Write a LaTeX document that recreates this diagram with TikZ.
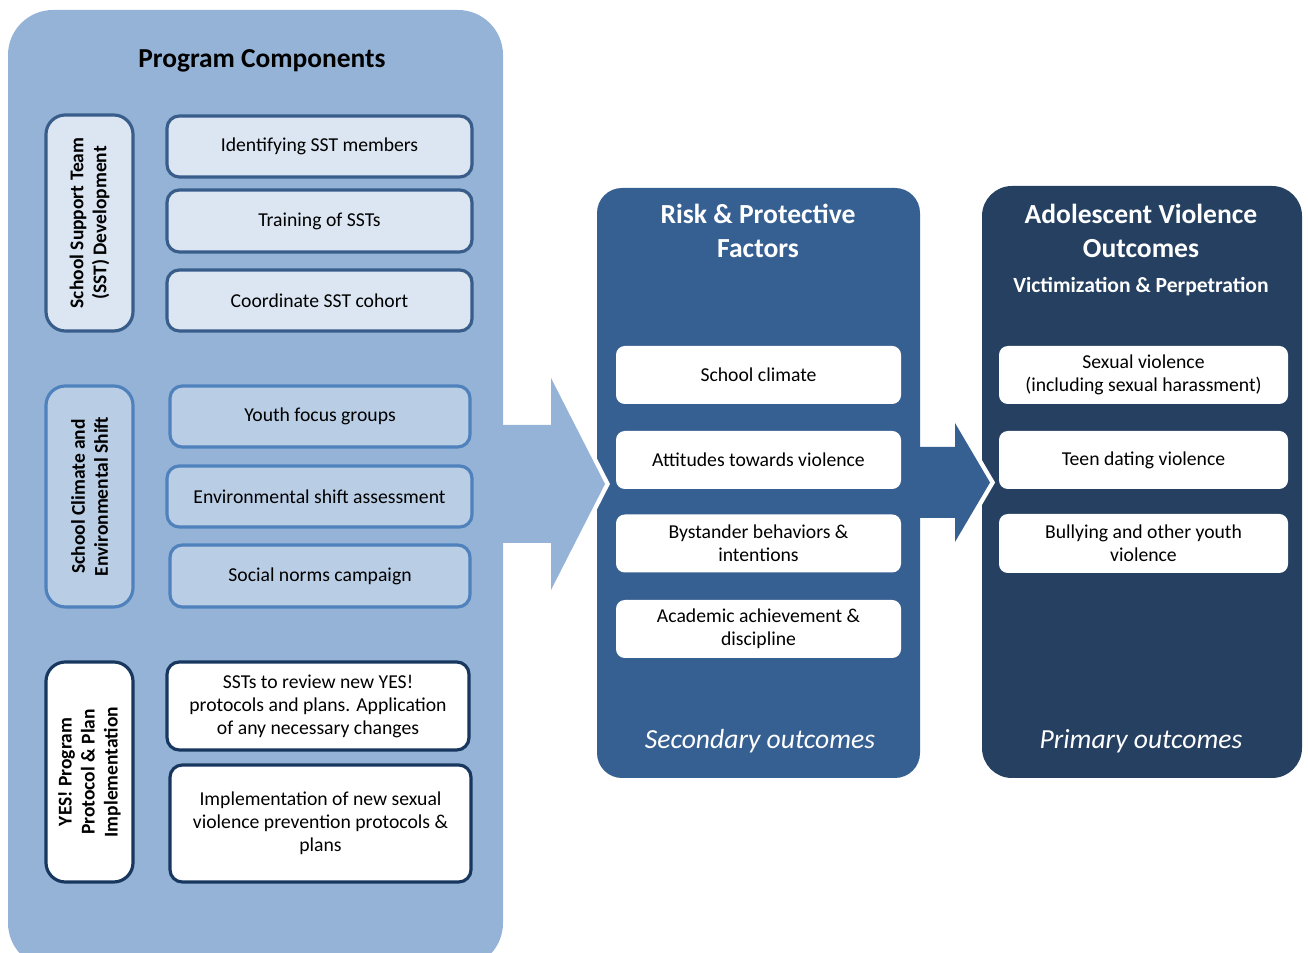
\documentclass[tikz,border=0pt]{standalone}
\usepackage{fontspec}
\setmainfont{Carlito}
\definecolor{compblue}{HTML}{95B3D7}
\definecolor{riskblue}{HTML}{376092}
\definecolor{outblue}{HTML}{254061}
\definecolor{sstfill}{HTML}{DCE6F2}
\definecolor{sstline}{HTML}{385D8A}
\definecolor{climfill}{HTML}{B9CDE5}
\definecolor{climline}{HTML}{4F81BD}
\definecolor{yesline}{HTML}{17375E}
\begin{document}
\begin{tikzpicture}[
    itembox/.style={rounded corners=7pt, line width=1.8pt, align=center,
        font=\fontsize{11.2}{13.1}\selectfont, inner sep=0pt},
    sidebox/.style={rounded corners=11pt, line width=1.8pt, align=center, rotate=90,
        font=\bfseries\fontsize{11.1}{13.1}\selectfont, inner sep=0pt},
    factor/.style={fill=white, rounded corners=5pt, align=center, inner sep=0pt,
        minimum height=1.16cm, font=\fontsize{11.2}{13.1}\selectfont},
    paneltitle/.style={white, align=center, font=\bfseries\fontsize{15.7}{19.4}\selectfont},
    outcome/.style={white, font=\itshape\fontsize{15.7}{18}\selectfont}
]
\useasboundingbox (0,0) rectangle (26.16,19.06);

% Panels
\fill[compblue, rounded corners=0.9cm] (0.16,-0.3) rectangle (10.06,18.86);
\fill[riskblue, rounded corners=0.5cm] (11.94,3.5) rectangle (18.4,15.3);
\fill[outblue, rounded corners=0.6cm] (19.64,3.5) rectangle (26.04,15.34);

% Block arrows (white rim first, then the arrow)
\draw[white, line width=5pt] (11.02,11.5) -- (12.1,9.38) -- (11.02,7.26);
\fill[compblue] (9.9,10.56) -- (11.02,10.56) -- (11.02,11.5) -- (12.1,9.38)
    -- (11.02,7.26) -- (11.02,8.2) -- (9.9,8.2) -- cycle;
\draw[white, line width=5pt] (19.1,10.6) -- (19.8,9.41) -- (19.1,8.22);
\fill[riskblue] (18.3,10.12) -- (19.1,10.12) -- (19.1,10.6) -- (19.8,9.41)
    -- (19.1,8.22) -- (19.1,8.7) -- (18.3,8.7) -- cycle;

% Program components
\node[font=\bfseries\fontsize{15.6}{18}\selectfont] (comptitle) at (5.24,17.84) {Program Components};

\node[sidebox, fill=sstfill, draw=sstline, minimum width=4.32cm, minimum height=1.74cm]
    (sstlabel) at (1.79,14.6) {School Support Team\\(SST) Development};
\node[itembox, fill=sstfill, draw=sstline, minimum width=6.1cm, minimum height=1.22cm]
    (identify) at (6.39,16.13) {Identifying SST members};
\node[itembox, fill=sstfill, draw=sstline, minimum width=6.1cm, minimum height=1.24cm]
    (training) at (6.39,14.64) {Training of SSTs};
\node[itembox, fill=sstfill, draw=sstline, minimum width=6.1cm, minimum height=1.22cm]
    (cohort) at (6.39,13.05) {Coordinate SST cohort};

\node[sidebox, fill=climfill, draw=climline, minimum width=4.42cm, minimum height=1.74cm]
    (climlabel) at (1.79,9.13) {School Climate and\\Environmental Shift};
\node[itembox, fill=climfill, draw=climline, minimum width=6.0cm, minimum height=1.22cm]
    (focus) at (6.4,10.73) {Youth focus groups};
\node[itembox, fill=climfill, draw=climline, minimum width=6.1cm, minimum height=1.22cm]
    (envshift) at (6.39,9.13) {Environmental shift assessment};
\node[itembox, fill=climfill, draw=climline, minimum width=6.0cm, minimum height=1.24cm]
    (norms) at (6.4,7.54) {Social norms campaign};

\node[sidebox, fill=white, draw=yesline, minimum width=4.4cm, minimum height=1.74cm]
    (yeslabel) at (1.79,3.62) {YES! Program\\Protocol \& Plan\\Implementation};
\node[itembox, fill=white, draw=yesline, minimum width=6.04cm, minimum height=1.76cm]
    (review) at (6.36,4.94) {SSTs to review new YES!\\protocols and plans. Application\\of any necessary changes};
\node[itembox, fill=white, draw=yesline, minimum width=6.02cm, minimum height=2.34cm]
    (implement) at (6.41,2.59) {Implementation of new sexual\\violence prevention protocols \&\\plans};

% Risk & protective factors
\node[paneltitle] (risktitle) at (15.16,14.44) {Risk \& Protective\\Factors};
\node[factor, minimum width=5.7cm] (climate) at (15.17,11.56) {School climate};
\node[factor, minimum width=5.7cm] (attitudes) at (15.17,9.86) {Attitudes towards violence};
\node[factor, minimum width=5.7cm] (bystander) at (15.17,8.19) {Bystander behaviors \&\\intentions};
\node[factor, minimum width=5.7cm] (academic) at (15.17,6.48) {Academic achievement \&\\discipline};
\node[outcome] (secondary) at (15.2,4.24) {Secondary outcomes};

% Adolescent violence outcomes
\node[paneltitle] (outtitle) at (22.82,14.44) {Adolescent Violence\\Outcomes};
\node[white, font=\bfseries\fontsize{12.3}{14}\selectfont] (victim) at (22.82,13.32) {Victimization \& Perpetration};
\node[factor, minimum width=5.78cm] (sexual) at (22.87,11.56) {Sexual violence\\(including sexual harassment)};
\node[factor, minimum width=5.78cm] (dating) at (22.87,9.86) {Teen dating violence};
\node[factor, minimum width=5.78cm, minimum height=1.18cm] (bullying) at (22.87,8.19) {Bullying and other youth\\violence};
\node[outcome] (primary) at (22.82,4.24) {Primary outcomes};
\end{tikzpicture}
\end{document}
